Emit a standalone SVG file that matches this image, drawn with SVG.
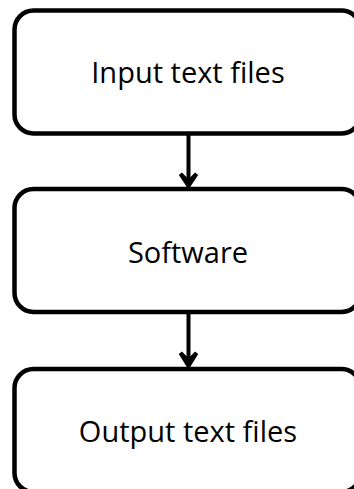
<svg xmlns="http://www.w3.org/2000/svg" width="354" height="489" viewBox="0 0 354 489">
  <style>
    .box { fill: #ffffff; stroke: #000000; stroke-width: 4.5; }
    .label { font-family: "Open Sans", "Liberation Sans", sans-serif; font-size: 29px; fill: #000000; text-anchor: middle; }
    .edge { fill: none; stroke: #000000; stroke-width: 4; }
    .head { fill: #000000; stroke: #000000; stroke-width: 4; stroke-linejoin: miter; }
  </style>
  <rect width="354" height="489" fill="#ffffff"/>
  <g id="connectors">
    <line class="edge" x1="188.5" y1="134" x2="188.5" y2="184"/>
    <path class="head" d="M180.5,174 L188.5,186 L196.5,174 L188.5,182 Z"/>
    <line class="edge" x1="188.5" y1="313" x2="188.5" y2="364"/>
    <path class="head" d="M180.5,353 L188.5,366 L196.5,353 L188.5,361 Z"/>
  </g>
  <g id="input-files">
    <rect class="box" x="14.5" y="10.5" width="346" height="123" rx="19"/>
    <text class="label" x="188" y="83">Input text files</text>
  </g>
  <g id="software">
    <rect class="box" x="14.5" y="189" width="346" height="123" rx="19"/>
    <text class="label" x="188" y="262.5">Software</text>
  </g>
  <g id="output-files">
    <rect class="box" x="14.5" y="369" width="346" height="123" rx="19"/>
    <text class="label" x="188" y="441.5">Output text files</text>
  </g>
</svg>
